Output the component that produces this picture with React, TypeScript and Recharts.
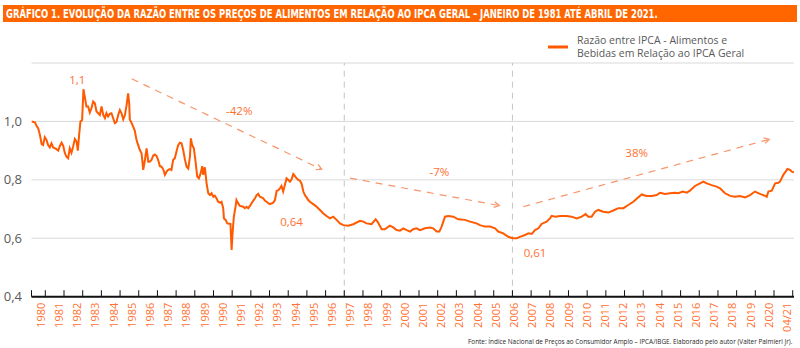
import {
  LineChart,
  Line,
  XAxis,
  YAxis,
  CartesianGrid,
  ReferenceLine,
  ReferenceDot,
  Legend,
} from "recharts";

// ratio food IPCA / general IPCA (year fraction, value)
const monthT = [
  1980.26, 1980.44, 1980.53, 1980.62, 1980.71, 1980.8, 1980.88, 1980.97, 1981.06, 1981.15,
  1981.24, 1981.33, 1981.42, 1981.6, 1981.69, 1981.78, 1981.87, 1981.96, 1982.04, 1982.13,
  1982.22, 1982.31, 1982.4, 1982.49, 1982.58, 1982.67, 1982.74, 1982.81, 1982.88, 1982.97,
  1983.04, 1983.11, 1983.2, 1983.29, 1983.38, 1983.47, 1983.56, 1983.65, 1983.74, 1983.83,
  1983.92, 1984.01, 1984.1, 1984.19, 1984.27, 1984.36, 1984.45, 1984.54, 1984.63, 1984.72,
  1984.81, 1984.9, 1984.99, 1985.08, 1985.17, 1985.26, 1985.35, 1985.43, 1985.49, 1985.52,
  1985.61, 1985.7, 1985.79, 1985.88, 1985.97, 1986.06, 1986.15, 1986.24, 1986.33, 1986.42,
  1986.51, 1986.59, 1986.68, 1986.77, 1986.86, 1986.95, 1987.04, 1987.13, 1987.22, 1987.31,
  1987.4, 1987.49, 1987.58, 1987.67, 1987.75, 1987.84, 1987.93, 1988.02, 1988.11, 1988.2,
  1988.29, 1988.38, 1988.47, 1988.56, 1988.65, 1988.74, 1988.79, 1988.86, 1988.95, 1989.04,
  1989.13, 1989.22, 1989.31, 1989.4, 1989.45, 1989.54, 1989.63, 1989.72, 1989.81, 1989.9,
  1989.99, 1990.07, 1990.16, 1990.25, 1990.34, 1990.43, 1990.52, 1990.56, 1990.65, 1990.74,
  1990.91, 1990.97, 1991.02, 1991.09, 1991.18, 1991.23, 1991.32, 1991.41, 1991.59, 1991.68,
  1991.77, 1991.86, 1991.95, 1992.04, 1992.13, 1992.22, 1992.31, 1992.39, 1992.48, 1992.57,
  1992.66, 1992.75, 1992.84, 1992.93, 1993.02, 1993.2, 1993.29, 1993.38, 1993.47, 1993.56,
  1993.64, 1993.73, 1993.82, 1993.91, 1994.0, 1994.09, 1994.18, 1994.27, 1994.36, 1994.45,
  1994.54, 1994.63, 1994.72, 1994.81, 1994.89, 1994.98, 1995.07, 1995.16, 1995.34, 1995.52,
  1995.7, 1995.88, 1996.05, 1996.23, 1996.41, 1996.59, 1996.77, 1996.95, 1997.21, 1997.48,
  1997.84, 1998.02, 1998.19, 1998.46, 1998.68, 1998.78, 1999.0, 1999.17, 1999.44, 1999.62,
  1999.8, 1999.98, 2000.16, 2000.34, 2000.52, 2000.69, 2000.87, 2001.05, 2001.32, 2001.59,
  2001.76, 2001.94, 2002.09, 2002.21, 2002.39, 2002.57, 2002.84, 2003.1, 2003.46, 2003.73,
  2004.08, 2004.26, 2004.53, 2004.8, 2005.07, 2005.24, 2005.51, 2005.78, 2006.01, 2006.23,
  2006.4, 2006.67, 2006.85, 2007.03, 2007.21, 2007.39, 2007.56, 2007.83, 2008.01, 2008.1,
  2008.28, 2008.55, 2008.9, 2009.17, 2009.44, 2009.71, 2009.92, 2010.06, 2010.24, 2010.42,
  2010.6, 2010.86, 2011.13, 2011.4, 2011.67, 2011.94, 2012.2, 2012.47, 2012.68, 2012.92,
  2013.18, 2013.45, 2013.72, 2013.9, 2014.17, 2014.43, 2014.7, 2014.88, 2015.11, 2015.33,
  2015.5, 2015.77, 2016.04, 2016.22, 2016.4, 2016.66, 2016.93, 2017.11, 2017.38, 2017.65,
  2017.91, 2018.18, 2018.45, 2018.72, 2018.98, 2019.25, 2019.52, 2019.61, 2019.7, 2019.88,
  2020.06, 2020.23, 2020.32, 2020.5, 2020.72, 2020.86, 2020.95, 2021.07,
];

const ratio = [
  1.0, 0.997, 0.985, 0.976, 0.954, 0.923, 0.919, 0.946, 0.937, 0.919,
  0.911, 0.925, 0.911, 0.905, 0.9, 0.916, 0.927, 0.916, 0.893, 0.879,
  0.874, 0.908, 0.893, 0.914, 0.94, 0.931, 0.9, 0.954, 1.0, 1.005,
  1.11, 1.085, 1.051, 1.051, 1.03, 1.045, 1.068, 1.062, 1.034, 1.028,
  1.022, 1.051, 1.022, 1.011, 1.028, 1.017, 1.026, 1.028, 1.011, 0.994,
  0.998, 1.022, 1.039, 1.028, 1.007, 1.022, 1.056, 1.096, 1.062, 1.007,
  0.996, 0.982, 0.968, 0.937, 0.919, 0.902, 0.891, 0.834, 0.868, 0.908,
  0.862, 0.862, 0.868, 0.883, 0.887, 0.882, 0.868, 0.847, 0.845, 0.836,
  0.817, 0.828, 0.834, 0.837, 0.834, 0.868, 0.874, 0.897, 0.919, 0.927,
  0.925, 0.902, 0.87, 0.845, 0.839, 0.879, 0.942, 0.919, 0.908, 0.862,
  0.811, 0.805, 0.822, 0.847, 0.817, 0.843, 0.788, 0.754, 0.748, 0.754,
  0.742, 0.746, 0.737, 0.725, 0.722, 0.725, 0.703, 0.668, 0.663, 0.651,
  0.649, 0.56, 0.617, 0.674, 0.708, 0.731, 0.72, 0.711, 0.708, 0.703,
  0.708, 0.703, 0.711, 0.72, 0.729, 0.737, 0.748, 0.752, 0.742, 0.74,
  0.737, 0.729, 0.725, 0.72, 0.717, 0.722, 0.731, 0.762, 0.765, 0.771,
  0.779, 0.76, 0.782, 0.805, 0.8, 0.794, 0.802, 0.82, 0.813, 0.805,
  0.8, 0.797, 0.786, 0.76, 0.748, 0.74, 0.731, 0.725, 0.717, 0.708,
  0.697, 0.685, 0.676, 0.668, 0.674, 0.663, 0.651, 0.645, 0.643, 0.648,
  0.66, 0.657, 0.651, 0.648, 0.665, 0.657, 0.631, 0.631, 0.643, 0.637,
  0.628, 0.626, 0.634, 0.628, 0.623, 0.631, 0.634, 0.628, 0.634, 0.637,
  0.634, 0.623, 0.623, 0.64, 0.674, 0.676, 0.674, 0.665, 0.663, 0.657,
  0.651, 0.645, 0.64, 0.64, 0.634, 0.623, 0.617, 0.605, 0.6, 0.6,
  0.605, 0.611, 0.617, 0.615, 0.628, 0.634, 0.649, 0.657, 0.668, 0.677,
  0.674, 0.676, 0.676, 0.674, 0.668, 0.674, 0.683, 0.674, 0.674, 0.691,
  0.697, 0.691, 0.688, 0.695, 0.703, 0.703, 0.714, 0.725, 0.737, 0.75,
  0.745, 0.745, 0.748, 0.756, 0.752, 0.754, 0.756, 0.754, 0.76, 0.756,
  0.763, 0.779, 0.788, 0.794, 0.788, 0.782, 0.777, 0.771, 0.754, 0.745,
  0.742, 0.745, 0.74, 0.748, 0.76, 0.752, 0.745, 0.742, 0.76, 0.763,
  0.788, 0.79, 0.794, 0.817, 0.837, 0.834, 0.828, 0.826,
];

const yearLabels = [
  "1980", "1981", "1982", "1983", "1984", "1985", "1986", "1987", "1988", "1989",
  "1990", "1991", "1992", "1993", "1994", "1995", "1996", "1997", "1998", "1999",
  "2000", "2001", "2002", "2003", "2004", "2005", "2006", "2007", "2008", "2009",
  "2010", "2011", "2012", "2013", "2014", "2015", "2016", "2017", "2018", "2019",
  "2020", "04/21",
];

const yearTicks = [
  1980.26, 1981, 1982, 1983, 1984, 1985, 1986, 1987, 1988, 1989, 1990, 1991, 1992,
  1993, 1994, 1995, 1996, 1997, 1998, 1999, 2000, 2001, 2002, 2003, 2004, 2005,
  2006, 2007, 2008, 2009, 2010, 2011, 2012, 2013, 2014, 2015, 2016, 2017, 2018,
  2019, 2020, 2021,
];

const yTicks = [0.4, 0.6, 0.8, 1.0];
const breakYears = [1997, 2006];

// trend arrows: start/end (year, value)
const trendFrom = [
  [1985.62, 1.146],
  [1997.31, 0.806],
  [2006.58, 0.708],
];
const trendTo = [
  [1995.79, 0.836],
  [2005.3, 0.712],
  [2019.75, 0.939],
];

const noteText = ["1,1", "-42%", "0,64", "-7%", "0,61", "38%"];
const noteT = [1982.71, 1991.38, 1994.18, 2002.09, 2007.21, 2012.65];
const noteV = [1.145, 1.039, 0.657, 0.828, 0.551, 0.893];

const seriesName = "Razão entre IPCA - Alimentos e\nBebidas em Relação ao IPCA Geral";

const data = monthT.map((t, i) => ({ t, v: ratio[i] }));

const ORANGE = "#FF5A00";
const LABEL_ORANGE = "#FF7030";
const FONT = "'Open Sans', 'DejaVu Sans', sans-serif";
const TITLE_SCALE = 0.75;

const TickMark = ({ x, y }: any) => (
  <line x1={x} x2={x} y1={y - 6.5} y2={y} stroke="#111" strokeWidth={1} />
);

const YearLabel = ({ x, y, payload }: any) => (
  <text
    x={x}
    y={y + 4}
    transform={`rotate(-90, ${x}, ${y + 4})`}
    textAnchor="end"
    dominantBaseline="central"
    fill={LABEL_ORANGE}
    fontSize={11}
    fontFamily={FONT}
  >
    {yearLabels[payload.value]}
  </text>
);

const Arrow = ({ x1, y1, x2, y2 }: any) => {
  const a = Math.atan2(y2 - y1, x2 - x1);
  const len = 6;
  const p1 = [x2 - len * Math.cos(a - 0.5), y2 - len * Math.sin(a - 0.5)];
  const p2 = [x2 - len * Math.cos(a + 0.5), y2 - len * Math.sin(a + 0.5)];
  return (
    <g stroke="#F8956A" strokeWidth={1.2} fill="none">
      <line x1={x1} y1={y1} x2={x2} y2={y2} strokeDasharray="7 6" />
      <polyline points={`${p1[0]},${p1[1]} ${x2},${y2} ${p2[0]},${p2[1]}`} />
    </g>
  );
};

const LegendBox = ({ payload }: any) => (
  <div>
    {(payload || []).map((p: any) => (
      <div key={p.value} style={{ display: "flex", alignItems: "center" }}>
        <svg width={20} height={4}>
          <line x1={0} x2={20} y1={2} y2={2} stroke={ORANGE} strokeWidth={3} />
        </svg>
        <div
          style={{
            marginLeft: 9,
            whiteSpace: "pre-line",
            fontFamily: FONT,
            fontSize: 10.5,
            lineHeight: "13.3px",
            color: "#595959",
          }}
        >
          {p.value}
        </div>
      </div>
    ))}
  </div>
);

export default function App() {
  return (
    <div style={{ position: "absolute", left: 0, top: 0, width: 800, height: 348, background: "#fff" }}>
      <LineChart width={800} height={348} data={data} margin={{ top: 63, right: 6, left: 0, bottom: 0 }}>
        <CartesianGrid vertical={false} stroke="#D9D9D9" />
        <XAxis
          dataKey="t"
          type="number"
          domain={[1980.26, 2021.07]}
          ticks={yearTicks}
          interval={0}
          height={2}
          tickSize={0}
          tickMargin={0}
          tickLine={false}
          axisLine={{ stroke: "#111", strokeWidth: 2 }}
          tick={<TickMark />}
          allowDataOverflow
        />
        <XAxis
          xAxisId="lbl"
          dataKey="t"
          type="number"
          domain={[-0.4835, 41.412]}
          ticks={yearLabels.map((_, i) => i)}
          interval={0}
          height={49.3}
          tickSize={0}
          tickMargin={0}
          tickLine={false}
          axisLine={false}
          tick={<YearLabel />}
          allowDataOverflow
        />
        <YAxis
          type="number"
          domain={[0.4, 1.2]}
          ticks={yTicks}
          width={31.5}
          axisLine={false}
          tickLine={false}
          tickSize={0}
          tickMargin={9.5}
          tickFormatter={(v: number) => v.toFixed(1).replace(".", ",")}
          tick={{ fill: "#595959", fontSize: 13, fontFamily: FONT }}
        />
        {breakYears.map((x) => (
          <ReferenceLine key={x} x={x} stroke="#C4C4C4" strokeDasharray="6 5" strokeWidth={1} />
        ))}
        {trendFrom.map((f, i) => (
          <ReferenceLine
            key={"tr" + i}
            segment={[
              { x: f[0], y: f[1] },
              { x: trendTo[i][0], y: trendTo[i][1] },
            ]}
            shape={<Arrow />}
          />
        ))}
        <Legend
          layout="horizontal"
          verticalAlign="middle"
          align="center"
          width={240}
          wrapperStyle={{ left: 548, top: 34, width: 240 }}
          content={<LegendBox />}
        />
        <Line
          type="linear"
          dataKey="v"
          name={seriesName}
          stroke={ORANGE}
          strokeWidth={2}
          dot={false}
          activeDot={false}
          isAnimationActive={false}
        />
        {noteText.map((txt, i) => (
          <ReferenceDot
            key={txt}
            x={noteT[i]}
            y={noteV[i]}
            r={1}
            shape={(p: any) => (
              <text
                x={p.cx}
                y={p.cy}
                textAnchor="middle"
                dominantBaseline="central"
                fill={LABEL_ORANGE}
                fontSize={11.5}
                fontFamily={FONT}
              >
                {txt}
              </text>
            )}
          />
        ))}
      </LineChart>
      <svg
        width={800}
        height={348}
        style={{ position: "absolute", left: 0, top: 0, pointerEvents: "none" }}
      >
        <rect x={3} y={5} width={794} height={17} fill="#FF6600" />
        <g transform={`scale(${TITLE_SCALE}, 1)`}>
          <text
            x={6 / TITLE_SCALE}
            y={17.8}
            fill="#fff"
            fontWeight="bold"
            fontSize={12.5}
            fontFamily="'Liberation Sans Narrow', 'DejaVu Sans Condensed', sans-serif"
          >
            GRÁFICO 1. EVOLUÇÃO DA RAZÃO ENTRE OS PREÇOS DE ALIMENTOS EM RELAÇÃO AO IPCA GERAL – JANEIRO DE 1981 ATÉ ABRIL DE 2021.
          </text>
        </g>
        <text x={468} y={344} fill="#262626" fontSize={6.4} fontFamily={FONT}>
          Fonte: Índice Nacional de Preços ao Consumidor Amplo – IPCA/IBGE. Elaborado pelo autor (Valter Palmieri Jr).
        </text>
      </svg>
    </div>
  );
}
